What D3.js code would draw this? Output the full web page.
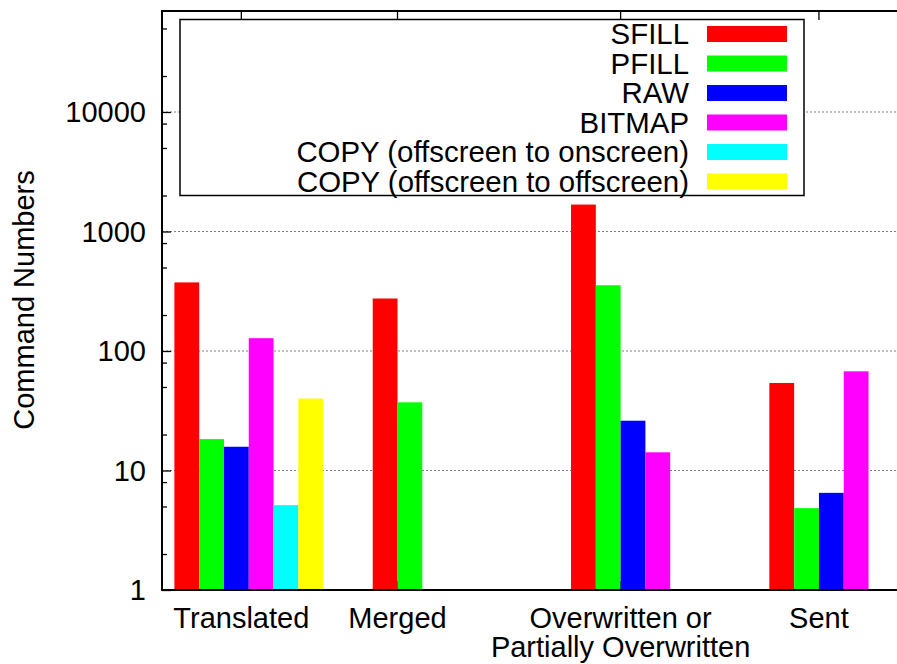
<!DOCTYPE html>
<html><head><meta charset="utf-8">
<script src="https://cdn.jsdelivr.net/npm/d3@7"></script>
<style>body{margin:0;background:#fff}svg{display:block}text{font-family:"Liberation Sans",Arial,sans-serif;fill:#000}</style>
</head><body><svg id="c" width="897" height="664"></svg>
<script>
const categories = ["Translated", "Merged", "Overwritten or\nPartially Overwritten", "Sent"];
const seriesNames = ["SFILL", "PFILL", "RAW", "BITMAP", "COPY (offscreen to onscreen)", "COPY (offscreen to offscreen)"];
const seriesColors = ["#ff0000", "#00ff00", "#0000ff", "#ff00ff", "#00ffff", "#ffff00"];
const sfill = [375, 275, 1680, 54];
const pfill = [18.3, 37.2, 355, 4.84];
const raw = [15.8, null, 26.1, 6.5];
const bitmap = [128, null, 14.2, 67.6];
const copyOn = [5.13, null, null, null];
const copyOff = [40, null, null, null];
const labelSlot = [2.7, 1, 2, 2]; // label position within each cluster (in bar widths)
const yTicks = [1, 10, 100, 1000, 10000];
const yMinorTicks = [2,5,8,20,50,80,200,500,800,2000,5000,8000,20000,50000];
const series = [sfill, pfill, raw, bitmap, copyOn, copyOff];

const svg = d3.select("#c");
const L = 162, T = 11, B = 590;
const slotsPerCluster = 8;
const x = d3.scaleLinear().domain([-0.5, 31]).range([L, L + 31.5 * 24.79]);
const R = x.range()[1];
const y = d3.scaleLog().domain([1, 70000]).range([B, T]);
const fs = 29;

// grid
svg.append("g").selectAll("line").data(yTicks.filter(v => v > 1)).join("line")
  .attr("x1", L).attr("x2", R).attr("y1", d => y(d)).attr("y2", d => y(d))
  .attr("stroke", "#808080").attr("stroke-width", 1).attr("stroke-dasharray", "2,2");

// y axis ticks (inside)
const yAx = svg.append("g").attr("transform", `translate(${L},0)`)
  .call(d3.axisRight(y).tickValues(yTicks).tickSize(9).tickFormat(""));
yAx.select(".domain").remove();
yAx.selectAll("line").attr("stroke", "#000").attr("stroke-width", 1.3);
const yMin = svg.append("g").attr("transform", `translate(${L},0)`)
  .call(d3.axisRight(y).tickValues(yMinorTicks).tickSize(5).tickFormat(""));
yMin.select(".domain").remove();
yMin.selectAll("line").attr("stroke", "#000").attr("stroke-width", 1.3);
svg.append("g").selectAll("text").data(yTicks).join("text")
  .attr("x", L - 16).attr("y", d => y(d)).attr("dy", "0.36em")
  .attr("text-anchor", "end").attr("font-size", fs).text(d => d);

// x ticks (top, mirrored) and bottom
const tickPos = categories.map((c, i) => i * slotsPerCluster + labelSlot[i]);
svg.append("g").selectAll("line").data(tickPos).join("line")
  .attr("x1", d => x(d)).attr("x2", d => x(d)).attr("y1", T).attr("y2", T + 9)
  .attr("stroke", "#000").attr("stroke-width", 1.3);
svg.append("g").selectAll("line").data(tickPos).join("line")
  .attr("x1", d => x(d)).attr("x2", d => x(d)).attr("y1", B).attr("y2", B - 9)
  .attr("stroke", "#000").attr("stroke-width", 1.3);

// bars
const bars = [];
series.forEach((s, j) => s.forEach((v, g) => { if (v != null) bars.push({g, j, v}); }));
svg.append("g").selectAll("rect").data(bars).join("rect")
  .attr("x", d => x(d.g * slotsPerCluster + d.j))
  .attr("width", d => x(d.g * slotsPerCluster + d.j + 1) - x(d.g * slotsPerCluster + d.j))
  .attr("y", d => y(d.v)).attr("height", d => B - y(d.v))
  .attr("fill", d => seriesColors[d.j]);

// x labels
const xl = svg.append("g").selectAll("text").data(categories).join("text")
  .attr("x", (d, i) => x(tickPos[i])).attr("y", 628)
  .attr("text-anchor", "middle").attr("font-size", fs);
xl.each(function(d) {
  const lines = d.split("\n");
  d3.select(this).selectAll("tspan").data(lines).join("tspan")
    .attr("x", d3.select(this).attr("x")).attr("dy", (l, k) => k === 0 ? 0 : 29).text(l => l);
});

// frame
svg.append("path").attr("d", `M${R},${T}H${L}V${B}H${R}`)
  .attr("fill", "none").attr("stroke", "#000").attr("stroke-width", 2);

// y label
svg.append("text").attr("transform", "translate(34,300) rotate(-90)")
  .attr("text-anchor", "middle").attr("font-size", 29).text("Command Numbers");

// legend
const lg = svg.append("g");
lg.append("rect").attr("x", 180).attr("y", 19.5).attr("width", 624).attr("height", 176)
  .attr("fill", "#fff").attr("stroke", "#000").attr("stroke-width", 1.5);
seriesNames.forEach((n, i) => {
  const cy = 34 + i * 29.5;
  lg.append("text").attr("x", 689).attr("y", cy).attr("dy", "0.35em")
    .attr("text-anchor", "end").attr("font-size", 29.4).text(n);
  lg.append("rect").attr("x", 707).attr("y", cy - 8).attr("width", 80).attr("height", 16)
    .attr("fill", seriesColors[i]);
});
</script></body></html>
